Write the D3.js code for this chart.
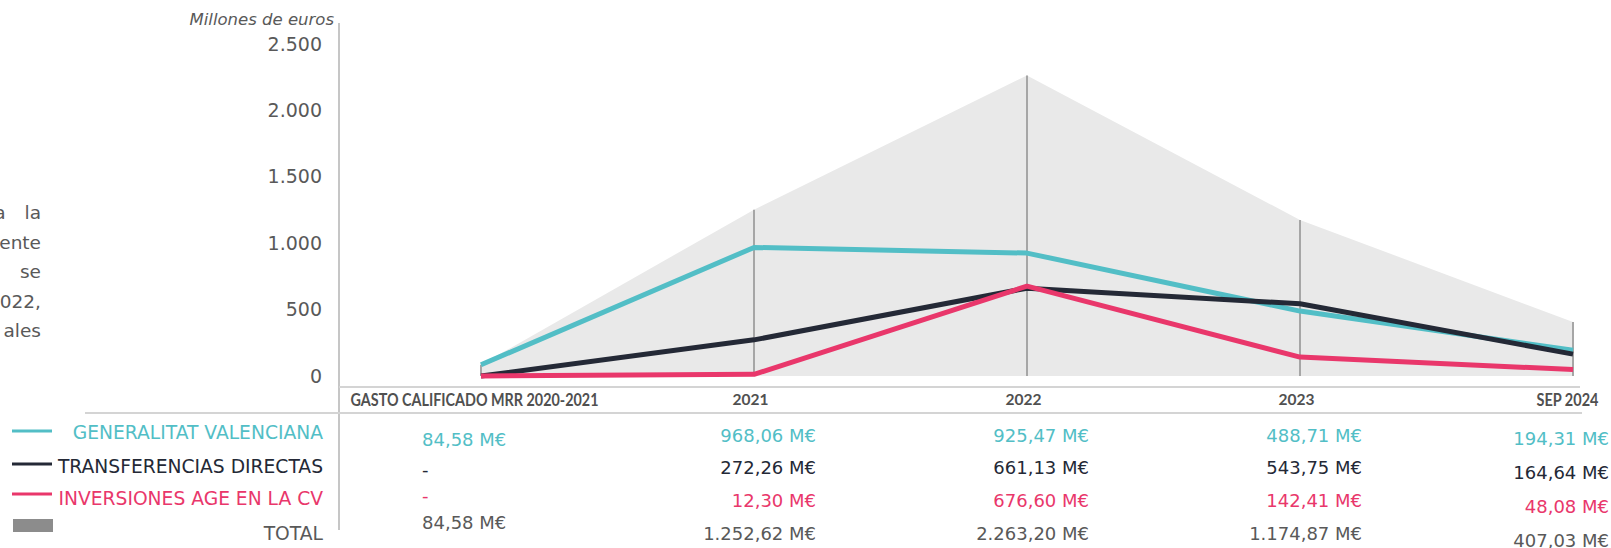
<!DOCTYPE html>
<html><head><meta charset="utf-8">
<script src="https://cdn.jsdelivr.net/npm/d3@7"></script>
<style>
html,body{margin:0;padding:0;background:#fff;}
svg{display:block;}
</style></head>
<body>
<svg id="chart" width="1611" height="548"></svg>
<script>
// ---- data ----
const categories = ["GASTO CALIFICADO MRR 2020-2021", "2021", "2022", "2023", "SEP 2024"];
const generalitat = [84.58, 968.06, 925.47, 488.71, 194.31];
const transferencias = [0, 272.26, 661.13, 543.75, 164.64];
const inversionesAGE = [0, 12.30, 676.60, 142.41, 48.08];
const total = [84.58, 1252.62, 2263.20, 1174.87, 407.03];
const yTickValues = [0, 500, 1000, 1500, 2000, 2500];
const seriesNames = ["GENERALITAT VALENCIANA", "TRANSFERENCIAS DIRECTAS", "INVERSIONES AGE EN LA CV", "TOTAL"];
const yTitle = "Millones de euros";
const paragraphFragments = ["la", "ente", "se", "022,", "ales"];

// ---- layout ----
const W = 1611, H = 548;
const colors = { gv: "#52bec6", td: "#242936", age: "#e9376b", total: "#8c8c8c", text: "#595959" };
const svg = d3.select("#chart");
const FONT = "'DejaVu Sans', Verdana, sans-serif";

const x = d3.scalePoint().domain(categories).range([481, 1573]);
const y = d3.scaleLinear().domain([0, 2500]).range([376, 44]);
const axisX = 339;

const es = d3.formatLocale({ decimal: ",", thousands: ".", grouping: [3], currency: ["", " €"] });
const fmtTick = es.format(",.0f");
const fmtVal = es.format(",.2f");

// left paragraph fragments (cut off text)
const para = svg.append("g").attr("font-family", FONT).attr("font-size", 18.5).attr("fill", colors.text);
para.append("text").attr("x", 5.5).attr("y", 219).attr("text-anchor", "end").text("a");
paragraphFragments.forEach((t, i) => {
  para.append("text").attr("x", 41).attr("y", 219 + i * 29.5).attr("text-anchor", "end").text(t);
});

// total area
const area = d3.area().x((d, i) => x(categories[i])).y0(y(0)).y1(d => y(d));
svg.append("path").datum(total).attr("d", area).attr("fill", "#e9e9e9");

// drop lines
svg.append("g").selectAll("line").data(total).join("line")
  .attr("x1", (d, i) => x(categories[i])).attr("x2", (d, i) => x(categories[i]))
  .attr("y1", y(0)).attr("y2", d => y(d))
  .attr("stroke", "#a6a6a6").attr("stroke-width", 2);

// y axis line
svg.append("line").attr("x1", axisX).attr("x2", axisX).attr("y1", 23).attr("y2", 530)
  .attr("stroke", "#c6c6c6").attr("stroke-width", 2);

// horizontal rules
svg.append("line").attr("x1", axisX).attr("x2", 1580).attr("y1", 387).attr("y2", 387)
  .attr("stroke", "#d4d4d4").attr("stroke-width", 2);
svg.append("line").attr("x1", 85).attr("x2", 1582).attr("y1", 413).attr("y2", 413)
  .attr("stroke", "#d4d4d4").attr("stroke-width", 2);

// y axis ticks
const yAxis = d3.axisLeft(y).tickValues(yTickValues).tickFormat(fmtTick).tickSize(0).tickPadding(0);
const yg = svg.append("g").attr("transform", `translate(322,0)`).call(yAxis);
yg.select(".domain").remove();
yg.selectAll("text").attr("font-family", FONT).attr("font-size", 19).attr("fill", colors.text);

// y title
svg.append("text").attr("x", 334).attr("y", 25).attr("text-anchor", "end")
  .attr("font-family", FONT).attr("font-style", "italic").attr("font-size", 16.5)
  .attr("fill", colors.text).text(yTitle);

// series lines
const line = d3.line().x((d, i) => x(categories[i])).y(d => y(d));
[[generalitat, colors.gv], [transferencias, colors.td], [inversionesAGE, colors.age]].forEach(([data, c]) => {
  svg.append("path").datum(data).attr("d", line).attr("fill", "none")
    .attr("stroke", c).attr("stroke-width", 5).attr("stroke-linejoin", "round");
});

// x category labels
const xAxis = d3.axisBottom(x).tickSize(0).tickPadding(0);
const xg = svg.append("g").attr("transform", `translate(0,394)`).call(xAxis);
xg.select(".domain").remove();
const condensedWidth = { "GASTO CALIFICADO MRR 2020-2021": 248, "SEP 2024": 62 };
xg.selectAll("text").attr("fill", "#505050").attr("dy", "0.71em")
  .attr("font-family", "Lato, sans-serif").attr("font-weight", 700)
  .each(function (d) {
    const t = d3.select(this);
    if (condensedWidth[d]) {
      t.attr("font-size", 16.5)
        .attr("textLength", condensedWidth[d]).attr("lengthAdjust", "spacingAndGlyphs")
        .attr("x", d === "SEP 2024" ? -6 : -7);
    } else {
      t.attr("font-size", 15.5).attr("x", -4);
    }
  });

// legend
const legRows = [432, 466, 498, 533];
const swatchY = [431, 464, 494];
const legColors = [colors.gv, colors.td, colors.age, colors.text];
const leg = svg.append("g").attr("font-family", FONT).attr("font-size", 18.7);
seriesNames.forEach((n, i) => {
  leg.append("text").attr("x", 323).attr("y", legRows[i]).attr("dy", "0.36em")
    .attr("text-anchor", "end").attr("fill", legColors[i]).text(n);
  if (i < 3) {
    leg.append("line").attr("x1", 12).attr("x2", 52).attr("y1", swatchY[i]).attr("y2", swatchY[i])
      .attr("stroke", legColors[i]).attr("stroke-width", 3);
  } else {
    leg.append("rect").attr("x", 13).attr("y", 519).attr("width", 40).attr("height", 13).attr("fill", colors.total);
  }
});

// table values
const tableSeries = [generalitat, transferencias, inversionesAGE, total];
const tableColors = [colors.gv, colors.td, colors.age, colors.text];
const baseRows = [436, 468, 501, 534];
const firstColRows = [440, 470, 496, 523];
const lastColShift = [3, 5, 6, 7];
const tbl = svg.append("g").attr("font-family", FONT).attr("font-size", 18);
tableSeries.forEach((s, r) => {
  s.forEach((v, c) => {
    const cx = x(categories[c]);
    let tx, anchor, ty;
    if (c === 0) { tx = cx - 59; anchor = "start"; ty = firstColRows[r]; }
    else if (c === categories.length - 1) { tx = Math.min(cx + 62, W - 2); anchor = "end"; ty = baseRows[r] + lastColShift[r]; }
    else { tx = cx + 62; anchor = "end"; ty = baseRows[r]; }
    tbl.append("text").attr("x", tx).attr("y", ty).attr("dy", "0.36em")
      .attr("text-anchor", anchor).attr("fill", tableColors[r])
      .text(v === 0 ? "-" : fmtVal(v) + " M€");
  });
});
</script>
</body></html>
